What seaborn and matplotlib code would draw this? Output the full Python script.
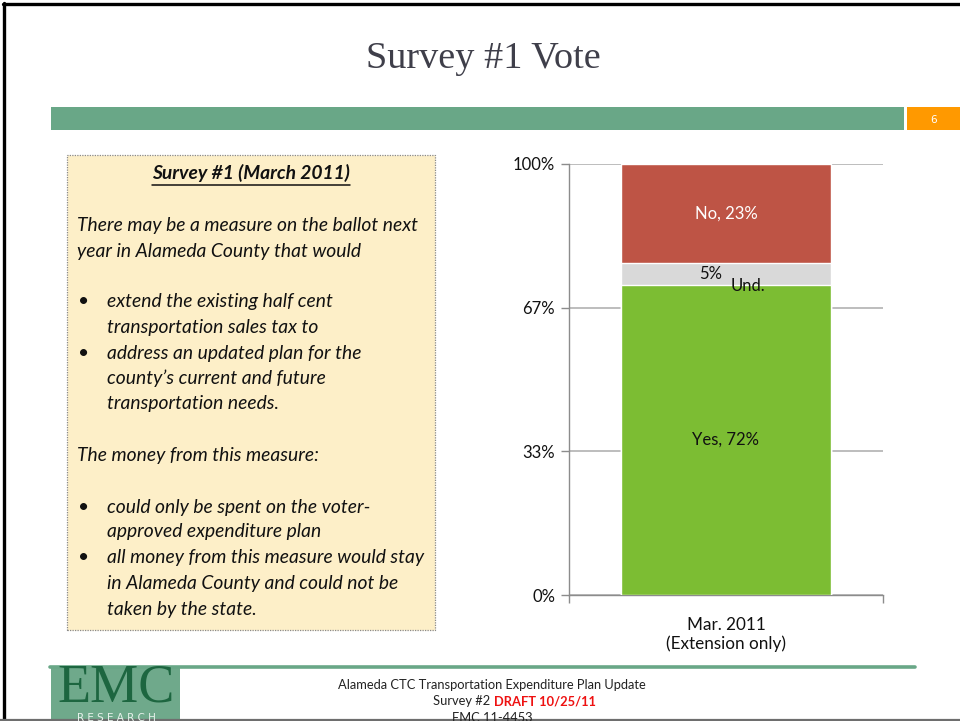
import matplotlib
matplotlib.use("Agg")
import matplotlib.pyplot as plt
from matplotlib.patches import Rectangle
from matplotlib.lines import Line2D
import pandas as pd
import seaborn as sns

# Survey data
period = ["Mar. 2011\n(Extension only)"]
yes_pct = [72]
und_pct = [5]
no_pct = [23]
tick_vals = [0, 33.33, 66.67, 100]
tick_labels = ["0%", "33%", "67%", "100%"]

sns.set_theme(style="white")
plt.rcParams["font.family"] = ["Lato", "DejaVu Sans"]

W, H = 960, 721
fig = plt.figure(figsize=(W / 100, H / 100), dpi=100)
fig.patch.set_facecolor("white")


def fx(px):
    return px / W


def fy(py):
    return 1 - py / H


# Slide frame
fig.add_artist(Line2D([fx(4), fx(4)], [fy(3), fy(720)], color="black", lw=2.4))
fig.add_artist(Line2D([fx(3), fx(960)], [fy(4), fy(4)], color="black", lw=2.4))
fig.add_artist(Line2D([0, 1], [fy(719.5), fy(719.5)], color="#6e6e6e", lw=1.6))

# Title and header band
fig.text(fx(483), fy(59), "Survey #1 Vote", ha="center", va="center",
         fontsize=27.5, color="#3f3f4a", family="Liberation Serif")
fig.add_artist(Rectangle((fx(51), fy(130)), fx(904 - 51), (130 - 107) / H,
                         facecolor="#69a787", edgecolor="none"))
fig.add_artist(Rectangle((fx(907), fy(130)), fx(60), (130 - 107) / H,
                         facecolor="#ff9900", edgecolor="none"))
fig.text(fx(934), fy(120), "6", ha="center", va="center", fontsize=7.5,
         color="white", family="DejaVu Sans")

# Question text box
fig.add_artist(Rectangle((fx(67), fy(630)), fx(435 - 67), (630 - 155) / H,
                         facecolor="#fdefc8", edgecolor="#8a8a8a",
                         lw=0.9, linestyle=(0, (1, 1))))
fs_box = 13.9
txt_kw = dict(fontsize=fs_box, style="italic", color="#111111", va="center")
heading = fig.text(fx(251), fy(173), "Survey #1 (March 2011)", ha="center",
                   fontweight="bold", **txt_kw)
renderer = fig.canvas.get_renderer()
hb = heading.get_window_extent(renderer)
fig.add_artist(Line2D([hb.x0 / W, hb.x1 / W], [fy(185), fy(185)],
                      color="#111111", lw=1.1))
plain_lines = [
    (225, "There may be a measure on the ballot next"),
    (251, "year in Alameda County that would"),
    (455, "The money from this measure:"),
]
for yy, s in plain_lines:
    fig.text(fx(77), fy(yy), s, ha="left", **txt_kw)
bullet_lines = [
    (302, True, "extend the existing half cent"),
    (327, False, "transportation sales tax to"),
    (353, True, "address an updated plan for the"),
    (378, False, "county\u2019s current and future"),
    (404, False, "transportation needs."),
    (507, True, "could only be spent on the voter-"),
    (532, False, "approved expenditure plan"),
    (558, True, "all money from this measure would stay"),
    (583, False, "in Alameda County and could not be"),
    (609, False, "taken by the state."),
]
for yy, has_bullet, s in bullet_lines:
    if has_bullet:
        fig.text(fx(78), fy(yy), "\u2022", ha="left", fontsize=fs_box,
                 color="#111111", va="center")
    fig.text(fx(107), fy(yy), s, ha="left", **txt_kw)

# Stacked bar chart
ax = fig.add_axes([fx(569), fy(595), fx(883 - 569), (595 - 164) / H])
df = pd.DataFrame({"period": period, "yes": yes_pct, "und": und_pct, "no": no_pct})
df["und_top"] = df["yes"] + df["und"]
df["no_top"] = df["und_top"] + df["no"]

for col, color in [("no_top", "#be5445"), ("und_top", "#d9d9d9"), ("yes", "#7cbd33")]:
    sns.barplot(data=df, x="period", y=col, color=color, width=0.666,
                saturation=1, ax=ax, zorder=3)

ax.set_xlim(-0.5, 0.5)
ax.set_ylim(0, 100)
ax.set_yticks(tick_vals)
ax.set_yticklabels(tick_labels)
ax.set_xlabel("")
ax.set_ylabel("")
ax.yaxis.grid(True, color="#b8b8b8", lw=1.3, zorder=0)
ax.set_axisbelow(True)
for side in ["top", "right"]:
    ax.spines[side].set_visible(False)
for side in ["left", "bottom"]:
    ax.spines[side].set_color("#8c8c8c")
    ax.spines[side].set_linewidth(1.0)
ax.tick_params(axis="y", length=6, width=1.0, color="#8c8c8c", labelsize=12,
               labelcolor="#111111", pad=4, left=True)
ax.set_xticks([-0.5, 0.5], minor=True)
ax.tick_params(axis="x", which="minor", length=6, width=1.0, color="#8c8c8c",
               bottom=True)
ax.tick_params(axis="x", which="major", length=0, labelsize=12.3,
               labelcolor="#111111", pad=16)
for lab in ax.get_xticklabels():
    lab.set_linespacing(1.15)

# Segment labels
lab_fs = 12
ax.text(0, yes_pct[0] / 2, f"Yes, {yes_pct[0]}%", ha="center", va="center",
        fontsize=lab_fs, color="#111111", zorder=5)
ax.text(0, df["und_top"][0] + no_pct[0] / 2, f"No, {no_pct[0]}%", ha="center",
        va="center", fontsize=lab_fs, color="white", zorder=5)
ax.text(-0.05, yes_pct[0] + und_pct[0] / 2, f"{und_pct[0]}%", ha="center",
        va="center", fontsize=lab_fs, color="#111111", zorder=5)
ax.text(0.07, yes_pct[0] - 0.2, "Und.", ha="center", va="center",
        fontsize=lab_fs, color="#111111", zorder=5)

# Footer
fig.add_artist(Line2D([fx(50), fx(915)], [fy(667), fy(667)], color="#69a787", lw=2.6))
fig.add_artist(Rectangle((fx(51), fy(719)), fx(180 - 51), (719 - 668) / H,
                         facecolor="#6fa98b", edgecolor="none"))
fig.text(fx(116), fy(702), "EMC", ha="center", va="baseline", fontsize=39,
         color="#1d6640", family="Liberation Serif")
fig.text(fx(116), fy(721), "R E S E A R C H", ha="center", va="baseline",
         fontsize=7.5, color="#e8f2ec", family="DejaVu Sans")
fig.text(fx(492), fy(685), "Alameda CTC Transportation Expenditure Plan Update",
         ha="center", va="center", fontsize=9.3, color="#222222")
fig.text(fx(494), fy(701), "Survey #2 ", ha="right", va="center",
         fontsize=9.3, color="#222222")
fig.text(fx(494), fy(701), "DRAFT 10/25/11", ha="left", va="center",
         fontsize=9.3, color="#ee1111", fontweight="bold")
fig.text(fx(492), fy(718), "EMC 11-4453", ha="center", va="center",
         fontsize=9.3, color="#222222")

fig.savefig("out.png", dpi=100)
